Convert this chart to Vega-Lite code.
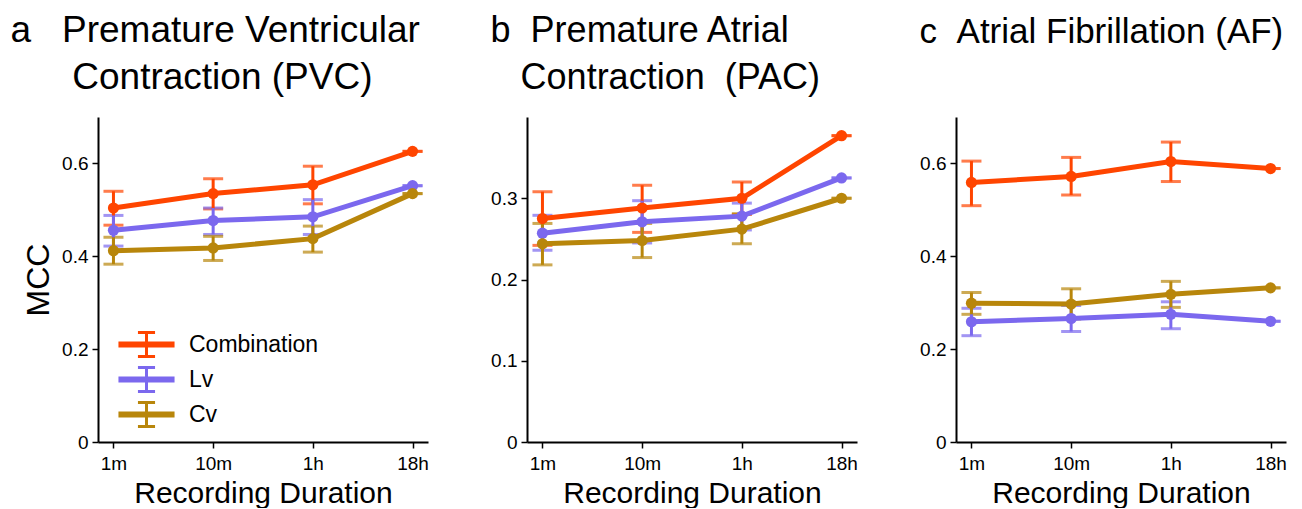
{
  "$schema": "https://vega.github.io/schema/vega-lite/v6.json",
  "padding": {"left": 10, "top": 12, "right": 2, "bottom": 0},
  "background": "white",
  "data": {"values": [
    {"panel":"a","dur":"1m","series":"Combination","mcc":0.504,"lo":0.467,"hi":0.540},
    {"panel":"a","dur":"10m","series":"Combination","mcc":0.535,"lo":0.502,"hi":0.567},
    {"panel":"a","dur":"1h","series":"Combination","mcc":0.554,"lo":0.513,"hi":0.594},
    {"panel":"a","dur":"18h","series":"Combination","mcc":0.626,"lo":0.626,"hi":0.626},
    {"panel":"a","dur":"1m","series":"Lv","mcc":0.456,"lo":0.422,"hi":0.488},
    {"panel":"a","dur":"10m","series":"Lv","mcc":0.477,"lo":0.447,"hi":0.504},
    {"panel":"a","dur":"1h","series":"Lv","mcc":0.485,"lo":0.447,"hi":0.522},
    {"panel":"a","dur":"18h","series":"Lv","mcc":0.552,"lo":0.552,"hi":0.552},
    {"panel":"a","dur":"1m","series":"Cv","mcc":0.412,"lo":0.383,"hi":0.441},
    {"panel":"a","dur":"10m","series":"Cv","mcc":0.418,"lo":0.391,"hi":0.443},
    {"panel":"a","dur":"1h","series":"Cv","mcc":0.438,"lo":0.409,"hi":0.465},
    {"panel":"a","dur":"18h","series":"Cv","mcc":0.535,"lo":0.535,"hi":0.535},
    {"panel":"b","dur":"1m","series":"Combination","mcc":0.275,"lo":0.242,"hi":0.308},
    {"panel":"b","dur":"10m","series":"Combination","mcc":0.288,"lo":0.258,"hi":0.316},
    {"panel":"b","dur":"1h","series":"Combination","mcc":0.300,"lo":0.280,"hi":0.320},
    {"panel":"b","dur":"18h","series":"Combination","mcc":0.377,"lo":0.377,"hi":0.377},
    {"panel":"b","dur":"1m","series":"Lv","mcc":0.257,"lo":0.236,"hi":0.279},
    {"panel":"b","dur":"10m","series":"Lv","mcc":0.271,"lo":0.245,"hi":0.297},
    {"panel":"b","dur":"1h","series":"Lv","mcc":0.278,"lo":0.261,"hi":0.294},
    {"panel":"b","dur":"18h","series":"Lv","mcc":0.325,"lo":0.325,"hi":0.325},
    {"panel":"b","dur":"1m","series":"Cv","mcc":0.244,"lo":0.218,"hi":0.269},
    {"panel":"b","dur":"10m","series":"Cv","mcc":0.248,"lo":0.227,"hi":0.269},
    {"panel":"b","dur":"1h","series":"Cv","mcc":0.262,"lo":0.244,"hi":0.281},
    {"panel":"b","dur":"18h","series":"Cv","mcc":0.300,"lo":0.300,"hi":0.300},
    {"panel":"c","dur":"1m","series":"Combination","mcc":0.559,"lo":0.509,"hi":0.605},
    {"panel":"c","dur":"10m","series":"Combination","mcc":0.572,"lo":0.532,"hi":0.613},
    {"panel":"c","dur":"1h","series":"Combination","mcc":0.604,"lo":0.561,"hi":0.646},
    {"panel":"c","dur":"18h","series":"Combination","mcc":0.589,"lo":0.589,"hi":0.589},
    {"panel":"c","dur":"1m","series":"Lv","mcc":0.259,"lo":0.229,"hi":0.288},
    {"panel":"c","dur":"10m","series":"Lv","mcc":0.266,"lo":0.238,"hi":0.294},
    {"panel":"c","dur":"1h","series":"Lv","mcc":0.275,"lo":0.244,"hi":0.302},
    {"panel":"c","dur":"18h","series":"Lv","mcc":0.260,"lo":0.260,"hi":0.260},
    {"panel":"c","dur":"1m","series":"Cv","mcc":0.299,"lo":0.275,"hi":0.322},
    {"panel":"c","dur":"10m","series":"Cv","mcc":0.297,"lo":0.265,"hi":0.330},
    {"panel":"c","dur":"1h","series":"Cv","mcc":0.318,"lo":0.290,"hi":0.346},
    {"panel":"c","dur":"18h","series":"Cv","mcc":0.332,"lo":0.332,"hi":0.332}
  ]},
  "resolve": {"legend": {"color": "independent"}},
  "spacing": 61,
  "hconcat": [
    {
      "width": 330, "height": 325,
      "title": {"text": ["a\u00a0\u00a0\u00a0Premature Ventricular", "\u200b\u00a0\u00a0\u00a0\u00a0\u00a0\u00a0Contraction (PVC)"], "dx": -12, "fontSize": 37},
      "transform": [{"filter": "datum.panel == 'a'"}],
      "encoding": {
        "x": {"field": "dur", "type": "ordinal", "sort": ["1m","10m","1h","18h"], "scale": {"type": "point", "padding": 0.155}, "axis": {"title": "Recording Duration", "labelAngle": 0}},
        "color": {"field": "series", "type": "nominal", "scale": {"domain": ["Combination","Lv","Cv"], "range": ["#FF4500","#7B68EE","#B8860B"]},
          "legend": {"title": null, "orient": "none", "legendX": 32, "legendY": 211, "symbolType": "M-1.77,-0.1H1.77V0.1H-1.77ZM0,-0.8V0.8M-0.57,-0.8H0.57M-0.57,0.8H0.57", "symbolSize": 900, "symbolStrokeWidth": 3, "symbolOpacity": 1, "labelFontSize": 23, "labelFont": "Liberation Sans", "labelColor": "black", "rowPadding": -4, "labelOffset": 26}}
      },
      "layer": [
        {"mark": {"type": "errorbar", "ticks": {"size": 20, "thickness": 3}, "rule": {"strokeWidth": 3}}, "encoding": {"y": {"field": "lo", "type": "quantitative", "scale": {"domain": [0, 0.7], "nice": false}, "axis": {"title": "MCC", "titleFontSize": 32, "titlePadding": 6, "values": [0, 0.2, 0.4, 0.6]}}, "y2": {"field": "hi"}}},
        {"mark": {"type": "line", "strokeWidth": 5}, "encoding": {"y": {"field": "mcc", "type": "quantitative"}}},
        {"mark": {"type": "circle", "size": 125, "opacity": 1}, "encoding": {"y": {"field": "mcc", "type": "quantitative"}}}
      ]
    },
    {
      "width": 330, "height": 325,
      "title": {"text": ["b\u00a0\u00a0Premature Atrial", "\u200b\u00a0\u00a0\u00a0Contraction\u00a0\u00a0(PAC)"], "dx": 0},
      "transform": [{"filter": "datum.panel == 'b'"}],
      "encoding": {
        "x": {"field": "dur", "type": "ordinal", "sort": ["1m","10m","1h","18h"], "scale": {"type": "point", "padding": 0.155}, "axis": {"title": "Recording Duration", "labelAngle": 0}},
        "color": {"field": "series", "type": "nominal", "scale": {"domain": ["Combination","Lv","Cv"], "range": ["#FF4500","#7B68EE","#B8860B"]}, "legend": null}
      },
      "layer": [
        {"mark": {"type": "errorbar", "ticks": {"size": 20, "thickness": 3}, "rule": {"strokeWidth": 3}}, "encoding": {"y": {"field": "lo", "type": "quantitative", "scale": {"domain": [0, 0.4], "nice": false}, "axis": {"title": null, "values": [0, 0.1, 0.2, 0.3]}}, "y2": {"field": "hi"}}},
        {"mark": {"type": "line", "strokeWidth": 5}, "encoding": {"y": {"field": "mcc", "type": "quantitative"}}},
        {"mark": {"type": "circle", "size": 125, "opacity": 1}, "encoding": {"y": {"field": "mcc", "type": "quantitative"}}}
      ]
    },
    {
      "width": 330, "height": 325,
      "title": {"text": "c\u00a0\u00a0Atrial Fibrillation (AF)", "dx": 0, "dy": -47, "fontSize": 35},
      "transform": [{"filter": "datum.panel == 'c'"}],
      "encoding": {
        "x": {"field": "dur", "type": "ordinal", "sort": ["1m","10m","1h","18h"], "scale": {"type": "point", "padding": 0.155}, "axis": {"title": "Recording Duration", "labelAngle": 0}},
        "color": {"field": "series", "type": "nominal", "scale": {"domain": ["Combination","Lv","Cv"], "range": ["#FF4500","#7B68EE","#B8860B"]}, "legend": null}
      },
      "layer": [
        {"mark": {"type": "errorbar", "ticks": {"size": 20, "thickness": 3}, "rule": {"strokeWidth": 3}}, "encoding": {"y": {"field": "lo", "type": "quantitative", "scale": {"domain": [0, 0.7], "nice": false}, "axis": {"title": null, "values": [0, 0.2, 0.4, 0.6]}}, "y2": {"field": "hi"}}},
        {"mark": {"type": "line", "strokeWidth": 5}, "encoding": {"y": {"field": "mcc", "type": "quantitative"}}},
        {"mark": {"type": "circle", "size": 125, "opacity": 1}, "encoding": {"y": {"field": "mcc", "type": "quantitative"}}}
      ]
    }
  ],
  "config": {
    "view": {"stroke": null},
    "font": "Liberation Sans",
    "title": {"font": "Liberation Sans", "fontSize": 36, "fontWeight": "normal", "color": "black", "anchor": "start", "frame": "bounds", "lineHeight": 47, "offset": 20},
    "axis": {"grid": false, "domainColor": "black", "domainWidth": 2, "tickColor": "black", "tickWidth": 1.5, "tickSize": 6, "labelFont": "Liberation Sans", "labelFontSize": 19, "labelColor": "black", "labelPadding": 6, "titleFont": "Liberation Sans", "titleFontSize": 30, "titleFontWeight": "normal", "titleColor": "black", "titlePadding": 5},
    "axisY": {"labelExpr": "datum.value == 0 ? '0' : format(datum.value, '.1f')", "labelPadding": 4}
  }
}
